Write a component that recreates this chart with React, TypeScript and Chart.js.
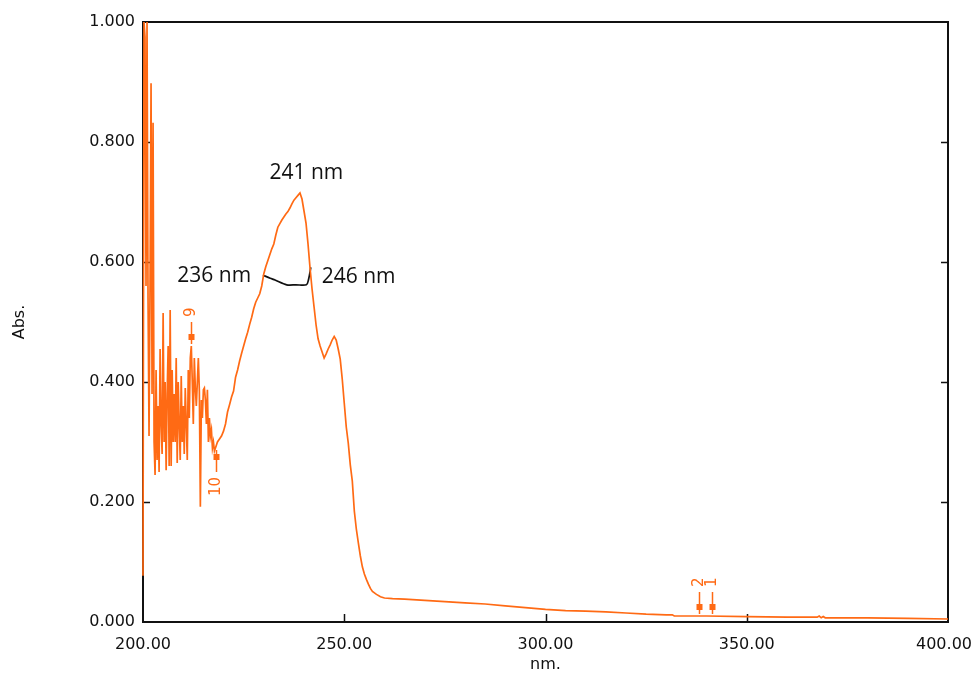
import { useEffect, useRef } from 'react';
import { Chart, registerables } from 'chart.js';

Chart.register(...registerables);

// ---- data ----
const specNm = [
  200.0, 200.25, 200.5, 200.75, 201.0, 201.25, 201.5, 201.75, 202.0, 202.25, 202.5, 202.75,
  203.0, 203.25, 203.5, 203.75, 204.0, 204.25, 204.5, 204.75, 205.0, 205.25, 205.5, 205.75,
  206.0, 206.25, 206.5, 206.75, 207.0, 207.25, 207.5, 207.75, 208.0, 208.25, 208.5, 208.75,
  209.0, 209.25, 209.5, 209.75, 210.0, 210.25, 210.5, 210.75, 211.0, 211.25, 211.5, 211.75,
  212.0, 212.25, 212.5, 212.75, 213.0, 213.25, 213.5, 213.75, 214.0, 214.25, 214.5, 214.75,
  215.0, 215.25, 215.5, 215.75, 216.0, 216.25, 216.5, 216.75, 217.0, 217.25, 217.5, 217.75,
  218.0, 218.25, 218.5, 219.0, 219.5, 220.0, 220.5, 221.0, 221.5, 222.0, 222.5, 223.0,
  223.5, 224.0, 224.5, 225.0, 225.5, 226.0, 226.5, 227.0, 227.5, 228.0, 228.5, 229.0,
  229.5, 230.0, 230.5, 231.0, 231.5, 232.0, 232.5, 233.0, 233.5, 234.0, 234.5, 235.0,
  235.5, 236.0, 236.5, 237.0, 237.5, 238.0, 238.5, 239.0, 239.5, 240.0, 240.5, 241.0,
  241.5, 242.0, 242.5, 243.0, 243.5, 244.0, 244.5, 245.0, 245.5, 246.0, 246.5, 247.0,
  247.5, 248.0, 248.5, 249.0, 249.5, 250.0, 250.5, 251.0, 251.5, 252.0, 252.5, 253.0,
  253.5, 254.0, 254.5, 255.0, 255.5, 256.0, 256.5, 257.0, 258.0, 259.0, 260.0, 262.0,
  265.0, 270.0, 275.0, 280.0, 285.0, 290.0, 295.0, 300.0, 305.0, 310.0, 315.0, 320.0,
  325.0, 330.0, 331.5, 332.0, 340.0, 350.0, 360.0, 367.5, 368.0, 368.5, 369.0, 369.5,
  380.0, 390.0, 400.0,
];
const specAbs = [
  0.077, 1.0, 0.975, 0.56, 1.0, 0.54, 0.31, 0.56, 0.898, 0.38, 0.832, 0.3,
  0.245, 0.42, 0.27, 0.36, 0.25, 0.455, 0.33, 0.28, 0.515, 0.3, 0.4, 0.253,
  0.38, 0.46, 0.26, 0.52, 0.26, 0.42, 0.3, 0.38, 0.3, 0.44, 0.265, 0.4,
  0.33, 0.27, 0.41, 0.3, 0.36, 0.28, 0.39, 0.33, 0.27, 0.42, 0.34, 0.44,
  0.46, 0.4, 0.33, 0.44, 0.39, 0.36, 0.4, 0.44, 0.385, 0.192, 0.37, 0.34,
  0.387, 0.39, 0.37, 0.33, 0.387, 0.3, 0.34, 0.31, 0.32, 0.29, 0.3, 0.285,
  0.29, 0.295, 0.3, 0.305, 0.31, 0.318, 0.33, 0.35, 0.362, 0.375, 0.385, 0.408,
  0.42, 0.435, 0.448, 0.46, 0.472, 0.483, 0.496, 0.508, 0.522, 0.533, 0.54, 0.547,
  0.56, 0.58, 0.592, 0.602, 0.612, 0.622, 0.63, 0.645, 0.658, 0.664, 0.67, 0.675,
  0.68, 0.684, 0.69, 0.697, 0.703, 0.707, 0.711, 0.715, 0.705, 0.685, 0.665, 0.63,
  0.59, 0.555, 0.525, 0.495, 0.472, 0.46, 0.45, 0.44, 0.447, 0.455, 0.462, 0.47,
  0.476, 0.47, 0.455, 0.438, 0.405, 0.365, 0.325, 0.298, 0.262, 0.235, 0.185, 0.155,
  0.132, 0.11, 0.092, 0.08, 0.071, 0.063, 0.056, 0.051, 0.046, 0.042, 0.04, 0.039,
  0.038, 0.036, 0.034, 0.032, 0.03, 0.027, 0.024, 0.021, 0.019, 0.018, 0.017, 0.015,
  0.013, 0.012, 0.012, 0.01, 0.01, 0.009, 0.008, 0.008, 0.01, 0.007, 0.009, 0.007,
  0.007, 0.006, 0.005,
];

// half-height bandwidth arc
const arcNm = [229.8, 231.6, 232.8, 235.7, 238.0, 240.6, 241.1, 241.7];
const arcAbs = [0.578, 0.573, 0.57, 0.562, 0.562, 0.562, 0.57, 0.591];

// annotation texts
const annText = ['241 nm', '236 nm', '246 nm'];
const annNm = [240.6, 217.7, 244.4];
const annAbs = [0.748, 0.577, 0.575];
const annAlign = ['center', 'center', 'left'];

// peak / valley pick markers
const markLabel = ['9', '10', '2', '1'];
const markNm = [212.0, 218.1, 338.2, 341.3];
const markAbs = [0.46, 0.29, 0.01, 0.01];
const markDir = ['up', 'down', 'up', 'up'];

const xTicks = [200, 250, 300, 350, 400];
const yTicks = [0, 0.2, 0.4, 0.6, 0.8, 1.0];

const ORANGE = '#ff6a14';
const INK = '#111111';

const framePlugin = {
  id: 'frameTicks',
  beforeDatasetsDraw(chart: any) {
    const { ctx, chartArea: a, scales } = chart;
    ctx.save();
    ctx.strokeStyle = INK;
    ctx.lineWidth = 2;
    ctx.strokeRect(a.left, a.top, a.right - a.left, a.bottom - a.top);
    ctx.lineWidth = 1.5;
    ctx.beginPath();
    for (const v of yTicks) {
      if (v === 0 || v === 1) continue;
      const y = Math.round(scales.y.getPixelForValue(v)) + 0.5;
      ctx.moveTo(a.left, y);
      ctx.lineTo(a.left + 7, y);
      ctx.moveTo(a.right, y);
      ctx.lineTo(a.right - 7, y);
    }
    for (const v of xTicks) {
      if (v === 200 || v === 400) continue;
      const x = Math.round(scales.x.getPixelForValue(v)) + 0.5;
      ctx.moveTo(x, a.bottom);
      ctx.lineTo(x, a.bottom - 8);
    }
    ctx.stroke();
    ctx.restore();
  },
  afterDatasetsDraw(chart: any) {
    const { ctx, scales } = chart;
    ctx.save();
    // markers
    ctx.strokeStyle = ORANGE;
    ctx.fillStyle = ORANGE;
    ctx.lineWidth = 1.5;
    ctx.font = '15px "DejaVu Sans"';
    ctx.textBaseline = 'middle';
    markNm.forEach((nm, i) => {
      const x = Math.round(scales.x.getPixelForValue(nm)) + 0.5;
      const y = scales.y.getPixelForValue(markAbs[i]);
      const s = markDir[i] === 'up' ? -1 : 1;
      ctx.beginPath();
      ctx.moveTo(x, y + s * 2);
      ctx.lineTo(x, y + s * 24);
      ctx.stroke();
      ctx.fillRect(x - 3, y + s * 9 - 3, 6, 6);
      ctx.save();
      ctx.translate(x, y + s * 29);
      ctx.rotate(-Math.PI / 2);
      ctx.textAlign = s < 0 ? 'left' : 'right';
      ctx.fillText(markLabel[i], 0, 0);
      ctx.restore();
    });
    // annotation texts
    ctx.fillStyle = INK;
    ctx.font = '21px "Open Sans"';
    annText.forEach((t, i) => {
      ctx.textAlign = annAlign[i] as CanvasTextAlign;
      ctx.fillText(t, scales.x.getPixelForValue(annNm[i]), scales.y.getPixelForValue(annAbs[i]));
    });
    ctx.restore();
  },
};

export default function App() {
  const ref = useRef<HTMLCanvasElement>(null);
  useEffect(() => {
    const canvas = ref.current;
    if (!canvas) return;
    const tickFont = { family: '"DejaVu Sans"', size: 16 };
    const chart = new Chart(canvas, {
      type: 'line',
      data: {
        datasets: [
          {
            data: specNm.map((x, i) => ({ x, y: specAbs[i] })),
            borderColor: ORANGE,
            borderWidth: 1.7,
            pointRadius: 0,
            tension: 0,
            clip: 4,
          } as any,
          {
            data: arcNm.map((x, i) => ({ x, y: arcAbs[i] })),
            borderColor: INK,
            borderWidth: 1.7,
            pointRadius: 0,
            tension: 0.3,
          } as any,
        ],
      },
      options: {
        animation: false,
        responsive: false,
        layout: { padding: { top: 22, right: 25, left: 0, bottom: 0 } },
        plugins: { legend: { display: false }, tooltip: { enabled: false } },
        scales: {
          x: {
            type: 'linear',
            min: 200,
            max: 400,
            afterBuildTicks: (s: any) => {
              s.ticks = xTicks.map((v) => ({ value: v }));
            },
            ticks: {
              autoSkip: false,
              maxRotation: 0,
              padding: 13,
              color: '#111',
              font: tickFont,
              callback: (v: any) => (Number(v) === 400 ? Number(v).toFixed(2) + '\u2002' : Number(v).toFixed(2)),
            },
            grid: { display: false, drawTicks: false },
            border: { display: false },
            title: {
              display: true,
              text: 'nm.',
              color: '#111',
              font: { family: '"DejaVu Sans"', size: 16, lineHeight: 1 },
              padding: { top: 0, bottom: 0 },
            },
            afterFit: (s: any) => {
              s.height = 51;
              s.paddingRight = 0;
              s.paddingLeft = 0;
            },
          },
          y: {
            type: 'linear',
            min: 0,
            max: 1,
            afterBuildTicks: (s: any) => {
              s.ticks = yTicks.map((v) => ({ value: v }));
            },
            ticks: {
              padding: 8,
              color: '#111',
              font: tickFont,
              callback: (v: any) => Number(v).toFixed(3),
            },
            grid: { display: false, drawTicks: false },
            border: { display: false },
            title: {
              display: true,
              text: 'Abs.',
              color: '#111',
              font: { family: '"DejaVu Sans"', size: 16, lineHeight: 1 },
              padding: { top: 12, bottom: 0 },
            },
            afterFit: (s: any) => {
              s.width = 143;
              s.paddingTop = 0;
              s.paddingBottom = 0;
            },
          },
        },
      } as any,
      plugins: [framePlugin],
    });
    return () => chart.destroy();
  }, []);
  return (
    <div style={{ position: 'fixed', left: 0, top: 0, width: 973, height: 673, background: '#fff' }}>
      <canvas ref={ref} width={973} height={673} style={{ display: 'block', width: 973, height: 673 }} />
    </div>
  );
}
